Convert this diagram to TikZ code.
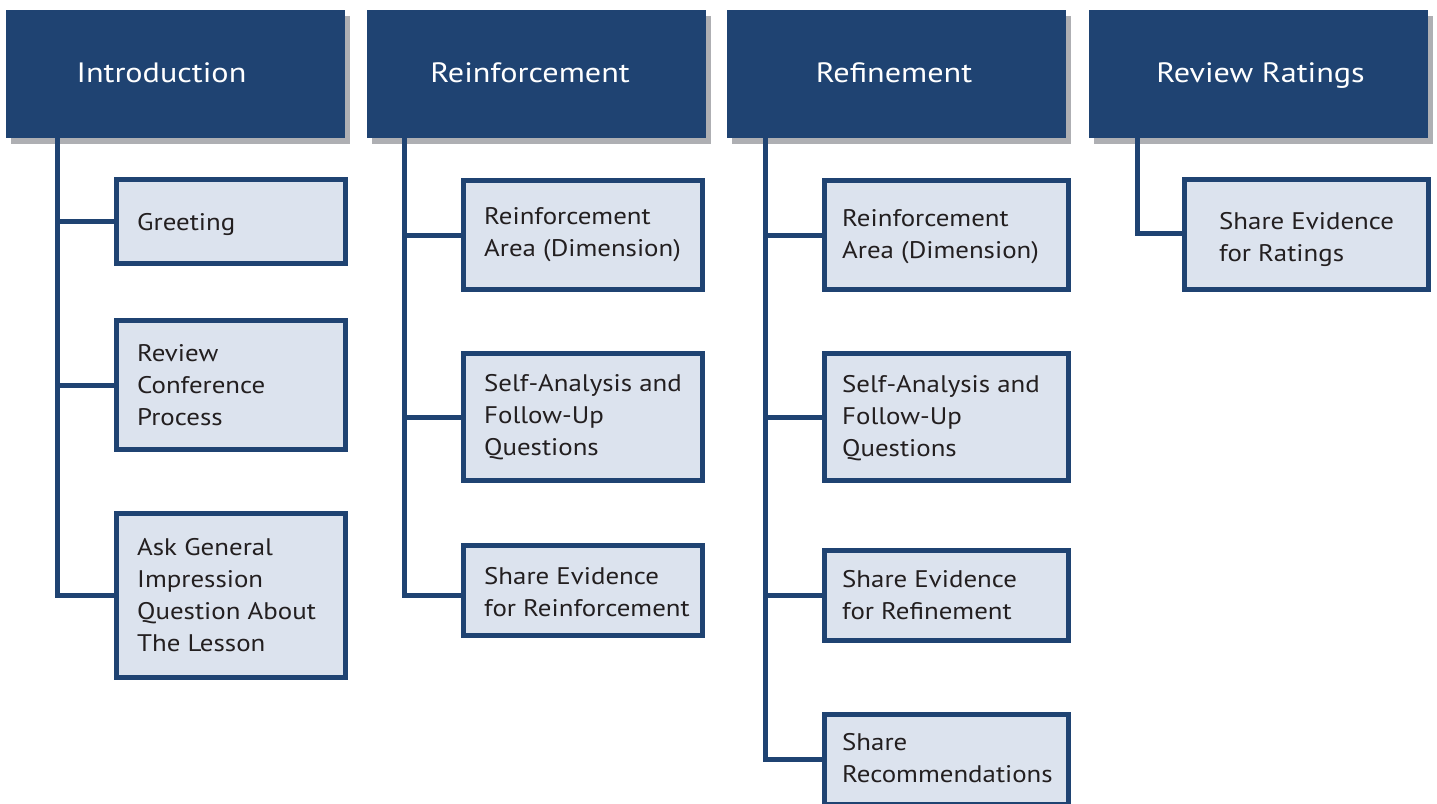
\documentclass[tikz,border=0pt]{standalone}
\usepackage{fontspec}
\setmainfont{PT Sans}[FakeStretch=1.12]
\newfontfamily\hdrfont{PT Sans}[FakeStretch=1.15]
\definecolor{navy}{HTML}{1F4372}
\definecolor{pale}{HTML}{DCE3EE}
\definecolor{shade}{HTML}{AEAFB3}
\definecolor{ink}{HTML}{231F20}
\begin{document}
\begin{tikzpicture}[x=1pt,y=-1pt,
  hdr/.style={fill=navy,draw=none,minimum width=339pt,minimum height=128pt,inner sep=0pt,outer sep=0pt},
  hshadow/.style={fill=shade,draw=none,minimum width=339pt,minimum height=128pt,inner sep=0pt,outer sep=0pt},
  htext/.style={text=white,font=\hdrfont\fontsize{28}{32}\selectfont,inner sep=0pt,anchor=base},
  cbox/.style={fill=pale,draw=navy,line width=5pt,inner sep=0pt},
  ctext/.style={text=ink,font=\fontsize{24}{32}\selectfont,align=left,inner sep=0pt,anchor=west},
  conn/.style={draw=navy,line width=5pt}]
\useasboundingbox (0,0) rectangle (1437,803);
\clip (0,0) rectangle (1437,803);
\fill[white] (0,0) rectangle (1437,803);

% header shadows
\node[hshadow] (s1) at (180.5,80) {};
\node[hshadow] (s2) at (541.5,80) {};
\node[hshadow] (s3) at (901.5,80) {};
\node[hshadow] (s4) at (1263,80) {};

% trunk anchors
\coordinate (t1) at (57.5,138);
\coordinate (t2) at (404.5,138);
\coordinate (t3) at (765.5,138);
\coordinate (t4) at (1137.5,138);

% child boxes
\node[cbox,minimum width=229pt,minimum height=84pt] (c11) at (231,221.5) {};
\node[cbox,minimum width=229pt,minimum height=129pt] (c12) at (231,385) {};
\node[cbox,minimum width=229pt,minimum height=164pt] (c13) at (231,595.5) {};

\node[cbox,minimum width=239pt,minimum height=109pt] (c21) at (583,235) {};
\node[cbox,minimum width=239pt,minimum height=127pt] (c22) at (583,417) {};
\node[cbox,minimum width=239pt,minimum height=90pt] (c23) at (583,590.5) {};

\node[cbox,minimum width=244pt,minimum height=109pt] (c31) at (946.5,235) {};
\node[cbox,minimum width=244pt,minimum height=127pt] (c32) at (946.5,417) {};
\node[cbox,minimum width=244pt,minimum height=90pt] (c33) at (946.5,595.5) {};
\node[cbox,minimum width=244pt,minimum height=90pt] (c34) at (946.5,759.5) {};

\node[cbox,minimum width=244pt,minimum height=110pt] (c41) at (1306.5,234.5) {};

% connectors
\draw[conn] (t1) |- (c13.west);
\draw[conn] (c11.west) -- (c11.west -| t1);
\draw[conn] (c12.west) -- (c12.west -| t1);

\draw[conn] (t2) |- ([yshift=-4.5pt]c23.west);
\draw[conn] (c21.west) -- (c21.west -| t2);
\draw[conn] (c22.west) -- (c22.west -| t2);

\draw[conn] (t3) |- (c34.west);
\draw[conn] (c31.west) -- (c31.west -| t3);
\draw[conn] (c32.west) -- (c32.west -| t3);
\draw[conn] (c33.west) -- (c33.west -| t3);

\draw[conn] (t4) |- ([yshift=1.5pt]c41.west);

% headers
\node[hdr] (h1) at (175.5,74) {};
\node[hdr] (h2) at (536.5,74) {};
\node[hdr] (h3) at (896.5,74) {};
\node[hdr] (h4) at (1258,74) {};
\node[htext] (h1t) at (161.5,82) {Introduction};
\node[htext] (h2t) at (530,82) {Reinforcement};
\node[htext] (h3t) at (894,82) {Refinement};
\node[htext] (h4t) at (1260.5,82) {Review Ratings};

% child texts
\node[ctext,anchor=base west] (c11t) at (137,230) {Greeting};
\node[ctext] (c12t) at (137,385) {Review\\Conference\\Process};
\node[ctext] (c13t) at (137,595.5) {Ask General\\Impression\\Question About\\The Lesson};

\node[ctext] (c21t) at (484,235) {Reinforcement\\Area (Dimension)};
\node[ctext] (c22t) at (484,417) {Self-Analysis and\\Follow-Up\\Questions};
\node[ctext] (c23t) at (484,592) {Share Evidence\\for Reinforcement};

\node[ctext] (c31t) at (842,237) {Reinforcement\\Area (Dimension)};
\node[ctext] (c32t) at (842,418) {Self-Analysis and\\Follow-Up\\Questions};
\node[ctext] (c33t) at (842,595.5) {Share Evidence\\for Refinement};
\node[ctext] (c34t) at (842,758) {Share\\Recommendations};

\node[ctext] (c41t) at (1219,239) {Share Evidence\\for Ratings};
\end{tikzpicture}
\end{document}
